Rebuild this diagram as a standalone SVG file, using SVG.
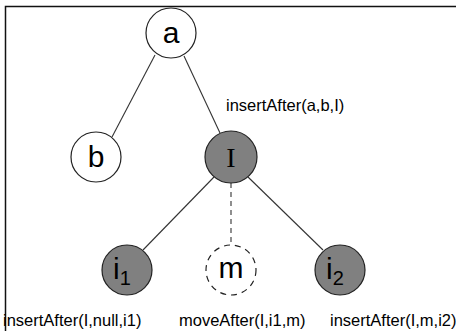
<svg xmlns="http://www.w3.org/2000/svg" width="456" height="331" viewBox="0 0 456 331">
<style>
.n{stroke:#222;stroke-width:1.2}
.w{fill:#fff}
.g{fill:#808080}
.t{font-family:"Liberation Sans",Arial,sans-serif;font-size:30px;fill:#000;text-anchor:middle}
.s{font-family:"Liberation Sans",Arial,sans-serif;font-size:20px}
.l{font-family:"Liberation Sans",Arial,sans-serif;font-size:16.5px;fill:#000}
.e{stroke:#333;stroke-width:1.1;fill:none}
</style>
<rect width="456" height="331" fill="#fff"/>
<path d="M5.5 331V6.5H456" fill="none" stroke="#111" stroke-width="1.5"/>
<g id="edges">
<line class="e" x1="155" y1="55" x2="112" y2="137"/>
<line class="e" x1="184" y1="56" x2="220" y2="133"/>
<line class="e" x1="214" y1="177" x2="143" y2="250"/>
<line class="e" x1="231" y1="183" x2="231" y2="244" stroke-dasharray="5,4"/>
<line class="e" x1="248" y1="177" x2="323" y2="250"/>
</g>
<g id="a"><circle class="n w" cx="171" cy="33" r="25"/><text class="t" x="171" y="43">a</text></g>
<g id="b"><circle class="n w" cx="96" cy="157" r="25"/><text class="t" x="96" y="167">b</text></g>
<g id="I"><circle class="n g" cx="231" cy="157" r="26"/><text x="231" y="167" font-family="Liberation Serif,serif" font-size="28" text-anchor="middle">I</text><text class="l" x="226" y="111">insertAfter(a,b,I)</text></g>
<g id="i1"><circle class="n g" cx="127" cy="270" r="25"/><text class="t" x="122" y="279">i<tspan class="s" dy="6">1</tspan></text><text class="l" x="3" y="326">insertAfter(I,null,i1)</text></g>
<g id="m"><circle class="n w" cx="231" cy="270" r="25" stroke-dasharray="6,5"/><text class="t" x="231" y="278">m</text><text class="l" x="179" y="326">moveAfter(I,i1,m)</text></g>
<g id="i2"><circle class="n g" cx="340" cy="270" r="25"/><text class="t" x="335" y="279">i<tspan class="s" dy="6">2</tspan></text><text class="l" x="330" y="326">insertAfter(I,m,i2)</text></g>
</svg>
